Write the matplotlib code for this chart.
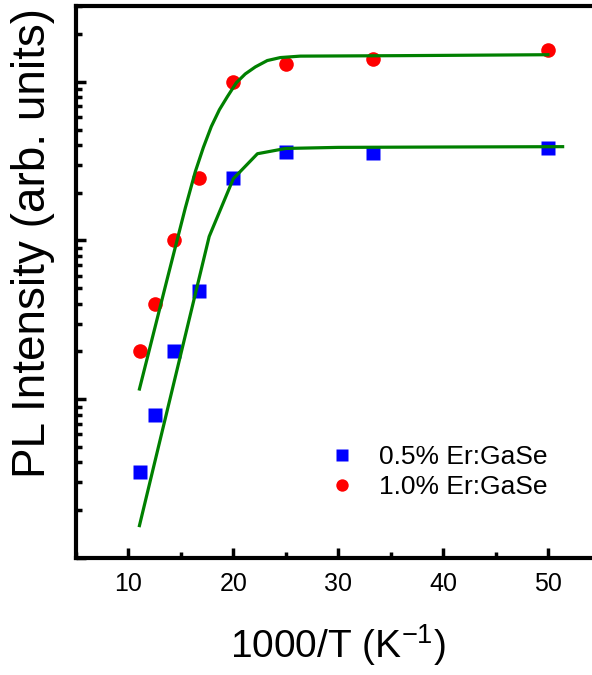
import matplotlib
matplotlib.use("Agg")
import matplotlib.pyplot as plt
from matplotlib.ticker import LogLocator, NullFormatter, MultipleLocator

plt.rcParams["font.family"] = ["Liberation Sans", "DejaVu Sans"]
plt.rcParams["mathtext.fontset"] = "custom"
plt.rcParams["mathtext.rm"] = "Liberation Sans"
plt.rcParams["mathtext.default"] = "regular"

# measured data (1000/T in K^-1, PL intensity in arb. units)
x_meas = [11.1, 12.5, 14.3, 16.7, 20.0, 25.0, 33.3, 50.0]
pl_05 = [0.35, 0.79, 2.0, 4.8, 24.9, 36.3, 35.8, 38.5]
pl_10 = [2.0, 3.96, 10.0, 24.9, 100.0, 130.0, 140.0, 159.0]

# fitted curves
x_fit_05 = [11.05, 17.7, 20.0, 22.3, 25.0, 30.0, 40.0, 51.4]
y_fit_05 = [0.16, 10.6, 24.5, 35.2, 38.0, 38.6, 38.8, 39.0]
x_fit_10 = [11.05, 13.71, 15.43, 16.38, 17.14, 17.90, 18.67, 19.43, 20.29,
            21.14, 22.10, 23.24, 24.48, 26.38, 35.9, 50.0]
y_fit_10 = [1.16, 5.77, 16.1, 27.2, 38.5, 52.2, 66.6, 80.5, 98.6,
            112.0, 124.0, 136.0, 142.0, 145.0, 146.0, 148.0]

fig = plt.figure(figsize=(5.92, 6.75), dpi=100)
ax = fig.add_axes([76 / 592, 1 - 558 / 675, 516 / 592, 552 / 675])

ax.plot(x_meas, pl_05, "s", color="#0000ff", ms=9.5, mec="none", label="0.5% Er:GaSe", zorder=2)
ax.plot(x_meas, pl_10, "o", color="#ff0000", ms=10.5, mec="none", label="1.0% Er:GaSe", zorder=2)
ax.plot(x_fit_05, y_fit_05, color="#008000", lw=2.3, zorder=3)
ax.plot(x_fit_10, y_fit_10, color="#008000", lw=2.3, zorder=3)

ax.set_yscale("log")
ax.set_xlim(5, 54.2)
ax.set_ylim(0.1, 300)

ax.xaxis.set_major_locator(MultipleLocator(10))
ax.xaxis.set_minor_locator(MultipleLocator(5))
ax.yaxis.set_major_locator(LogLocator(base=10))
ax.yaxis.set_minor_locator(LogLocator(base=10, subs=range(2, 10)))
ax.yaxis.set_major_formatter(NullFormatter())
ax.yaxis.set_minor_formatter(NullFormatter())

ax.spines["right"].set_visible(False)
for s in ["left", "bottom", "top"]:
    ax.spines[s].set_linewidth(3)

ax.tick_params(which="both", direction="in", width=2.5, top=False, right=False)
ax.tick_params(which="major", length=7, labelsize=18, pad=10)
ax.tick_params(which="minor", length=4)

ax.set_xlabel("1000/T (K$^{-1}$)", fontsize=28)
ax.xaxis.set_label_coords(0.508, -0.158)
ax.xaxis.label.set_va("center")
ax.set_ylabel("PL Intensity (arb. units)", fontsize=33)
ax.yaxis.set_label_coords(-0.083, 0.571)
ax.yaxis.label.set_va("center")

ax.legend(loc="upper left", bbox_to_anchor=(0.444, 0.248), frameon=False,
          fontsize=19, markerscale=0.85, handletextpad=0.9, labelspacing=0.25,
          handlelength=1.0)

fig.savefig("out.png", dpi=100)
